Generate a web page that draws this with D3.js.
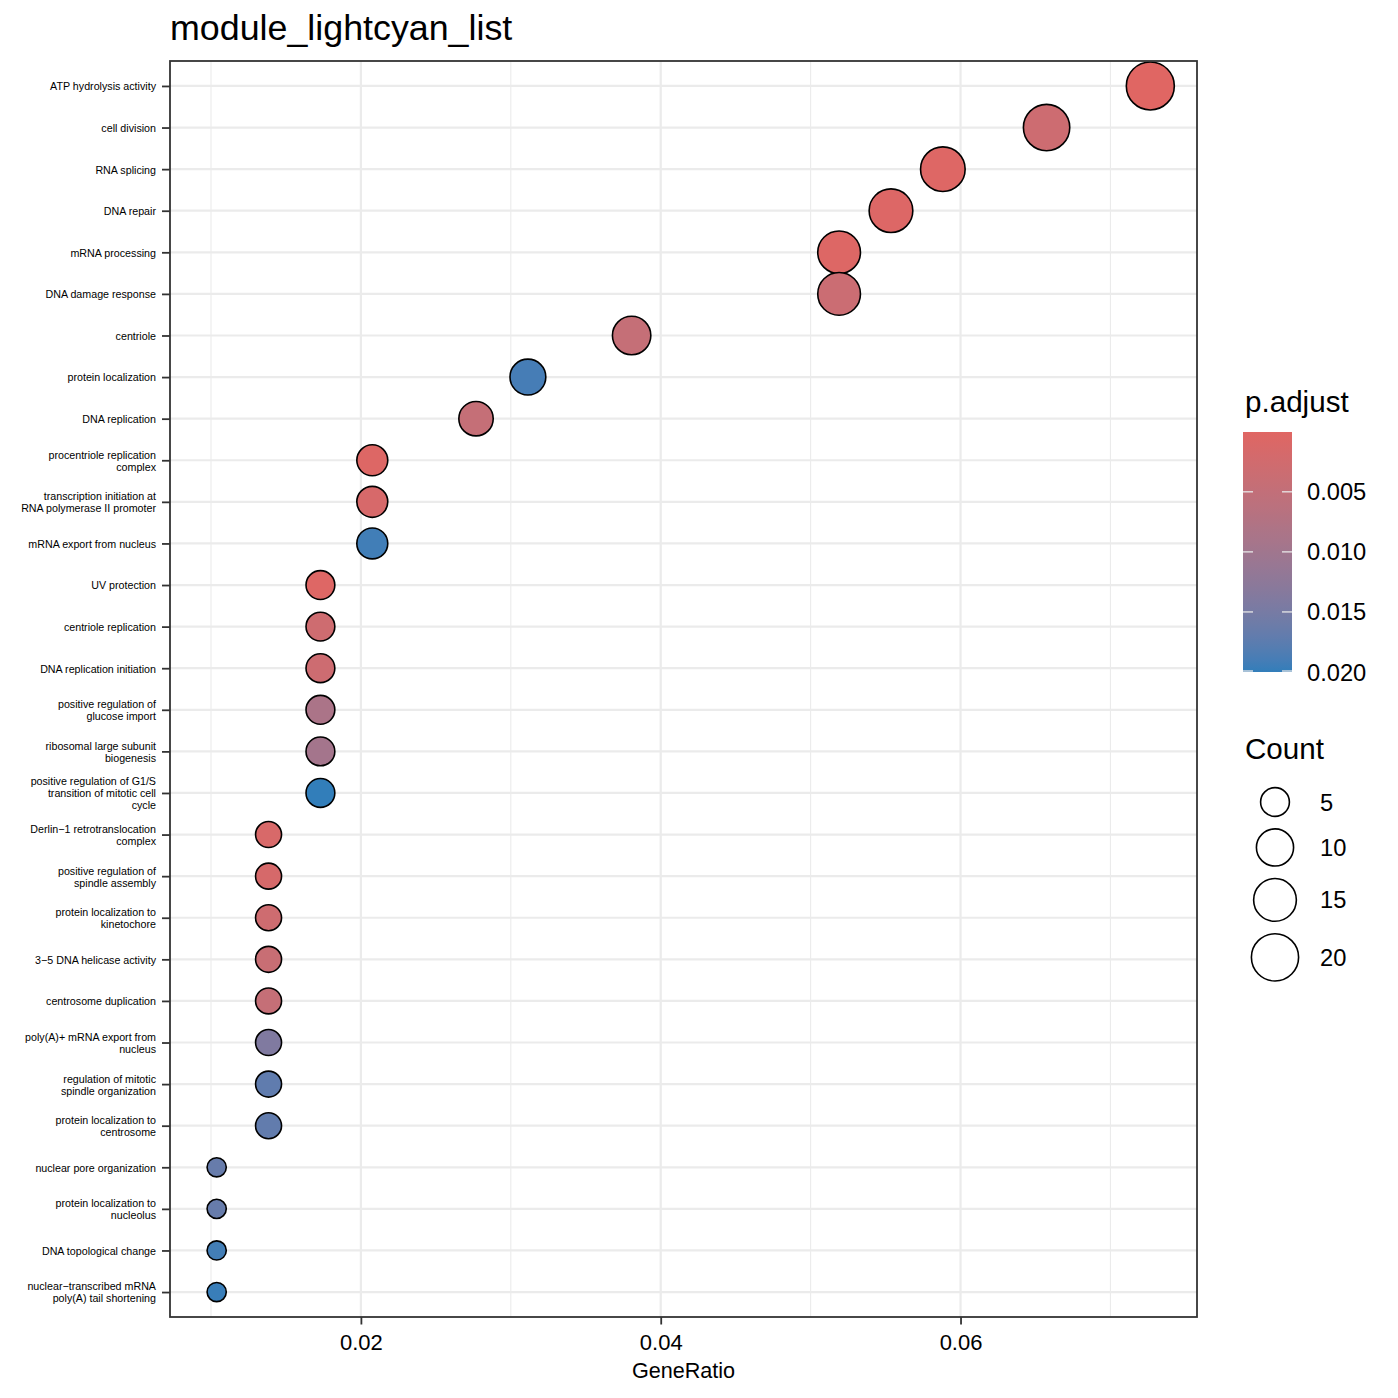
<!DOCTYPE html>
<html>
<head>
<meta charset="utf-8">
<script src="https://cdn.jsdelivr.net/npm/d3@7"></script>
<style>
  html, body { margin: 0; padding: 0; background: #fff; }
  svg { display: block; font-family: "Liberation Sans", Arial, Helvetica, sans-serif; }
</style>
</head>
<body>
<svg id="chart" width="1398" height="1398"></svg>
<script>
// ---------------- data ----------------
const categories = [
  "ATP hydrolysis activity",
  "cell division",
  "RNA splicing",
  "DNA repair",
  "mRNA processing",
  "DNA damage response",
  "centriole",
  "protein localization",
  "DNA replication",
  "procentriole replication\ncomplex",
  "transcription initiation at\nRNA polymerase II promoter",
  "mRNA export from nucleus",
  "UV protection",
  "centriole replication",
  "DNA replication initiation",
  "positive regulation of\nglucose import",
  "ribosomal large subunit\nbiogenesis",
  "positive regulation of G1/S\ntransition of mitotic cell\ncycle",
  "Derlin\u22121 retrotranslocation\ncomplex",
  "positive regulation of\nspindle assembly",
  "protein localization to\nkinetochore",
  "3\u22125 DNA helicase activity",
  "centrosome duplication",
  "poly(A)+ mRNA export from\nnucleus",
  "regulation of mitotic\nspindle organization",
  "protein localization to\ncentrosome",
  "nuclear pore organization",
  "protein localization to\nnucleolus",
  "DNA topological change",
  "nuclear\u2212transcribed mRNA\npoly(A) tail shortening"
];
const counts = [21, 19, 17, 16, 15, 15, 11, 9, 8, 6, 6, 6, 5, 5, 5, 5, 5, 5,
                4, 4, 4, 4, 4, 4, 4, 4, 3, 3, 3, 3];
const geneRatio = [0.07266, 0.06574, 0.05882, 0.05536, 0.05190, 0.05190, 0.03806,
                   0.03114, 0.02768, 0.02076, 0.02076, 0.02076, 0.01730, 0.01730,
                   0.01730, 0.01730, 0.01730, 0.01730, 0.01384, 0.01384, 0.01384,
                   0.01384, 0.01384, 0.01384, 0.01384, 0.01384, 0.01038, 0.01038,
                   0.01038, 0.01038];
const pAdjust = [0.00002, 0.0032, 0.0004, 0.0006, 0.0005, 0.0036, 0.0046, 0.0190,
                 0.0046, 0.0005, 0.0016, 0.0193, 0.0004, 0.0030, 0.0032, 0.0085,
                 0.0095, 0.0200, 0.0014, 0.0017, 0.0030, 0.0040, 0.0046, 0.0140,
                 0.0172, 0.0170, 0.0166, 0.0166, 0.0192, 0.0197];
const xTicks = [0.02, 0.04, 0.06];
const xMinor = [0.01, 0.03, 0.05, 0.07];
const colorTicks = [0.005, 0.010, 0.015, 0.020];
const sizeBreaks = [5, 10, 15, 20];
const lowColor = "#e06663", highColor = "#327eba";
const titleText = "module_lightcyan_list";

// ---------------- layout ----------------
const svg = d3.select("#chart");
const P = { left: 170, right: 1197, top: 61, bottom: 1317 };

const gMin = d3.min(geneRatio), gMax = d3.max(geneRatio);
const ex = (gMax - gMin) * 0.05;
const x = d3.scaleLinear().domain([gMin - ex, gMax + ex]).range([P.left, P.right]);
const y = d3.scalePoint().domain(categories).range([P.top, P.bottom]).padding(0.6);

const pMin = d3.min(pAdjust), pMax = d3.max(pAdjust);
const color = d3.scaleLinear().domain([pMin, pMax]).range([lowColor, highColor])
  .interpolate(d3.interpolateLab);

const cMin = d3.min(counts), cMax = d3.max(counts);
const rNorm = d3.scaleLinear().domain([0, 1]).range([9.6, 24.0]);
const radius = c => rNorm(Math.sqrt((c - cMin) / (cMax - cMin)));

// panel background
svg.append("rect").attr("x", P.left).attr("y", P.top)
  .attr("width", P.right - P.left).attr("height", P.bottom - P.top).attr("fill", "#fff");

// grid
const grid = svg.append("g");
grid.selectAll(".minor").data(xMinor).join("line")
  .attr("x1", d => x(d)).attr("x2", d => x(d))
  .attr("y1", P.top).attr("y2", P.bottom)
  .attr("stroke", "#ebebeb").attr("stroke-width", 1.1);
grid.selectAll(".majx").data(xTicks).join("line")
  .attr("x1", d => x(d)).attr("x2", d => x(d))
  .attr("y1", P.top).attr("y2", P.bottom)
  .attr("stroke", "#ebebeb").attr("stroke-width", 2.2);
grid.selectAll(".majy").data(categories).join("line")
  .attr("x1", P.left).attr("x2", P.right)
  .attr("y1", d => y(d)).attr("y2", d => y(d))
  .attr("stroke", "#ebebeb").attr("stroke-width", 2.2);

// points
const idx = d3.range(categories.length);
svg.append("g").selectAll("circle").data(idx).join("circle")
  .attr("cx", i => x(geneRatio[i]))
  .attr("cy", i => y(categories[i]))
  .attr("r", i => radius(counts[i]))
  .attr("fill", i => color(pAdjust[i]))
  .attr("stroke", "#000").attr("stroke-width", 1.6);

// panel border
svg.append("rect").attr("x", P.left).attr("y", P.top)
  .attr("width", P.right - P.left).attr("height", P.bottom - P.top)
  .attr("fill", "none").attr("stroke", "#333").attr("stroke-width", 1.8);

// x axis
const xAxis = d3.axisBottom(x).tickValues(xTicks).tickFormat(d3.format(".2f"))
  .tickSize(7.5).tickPadding(10);
const gx = svg.append("g").attr("transform", `translate(0,${P.bottom})`).call(xAxis);
gx.select(".domain").remove();
gx.selectAll(".tick line").attr("stroke", "#333").attr("stroke-width", 1.8);
gx.selectAll(".tick text").attr("font-size", 22).attr("fill", "#000")
  .attr("font-family", "Liberation Sans, Arial, sans-serif");

// y axis
const yAxis = d3.axisLeft(y).tickSize(8).tickFormat("");
const gy = svg.append("g").attr("transform", `translate(${P.left},0)`).call(yAxis);
gy.select(".domain").remove();
gy.selectAll(".tick line").attr("stroke", "#333").attr("stroke-width", 1.8);
gy.selectAll(".tick").each(function(d) {
  const lines = d.split("\n");
  const lh = 12;
  const t = d3.select(this).append("text")
    .attr("x", -14).attr("text-anchor", "end")
    .attr("font-size", 10.7).attr("fill", "#000")
    .attr("font-family", "Liberation Sans, Arial, sans-serif");
  lines.forEach((ln, k) => {
    t.append("tspan").attr("x", -14)
      .attr("y", (k - (lines.length - 1) / 2) * lh + 3.9)
      .text(ln);
  });
});

// axis title
svg.append("text").attr("x", (P.left + P.right) / 2).attr("y", 1378)
  .attr("text-anchor", "middle").attr("font-size", 21.6).attr("fill", "#000")
  .text("GeneRatio");

// plot title
svg.append("text").attr("x", 170).attr("y", 40)
  .attr("font-size", 35.8).attr("fill", "#000").text(titleText);

// ---------------- colour legend ----------------
const L = { x: 1243, w: 49, top: 432, bottom: 672 };
svg.append("text").attr("x", 1245).attr("y", 412).attr("font-size", 29.6)
  .attr("fill", "#000").text("p.adjust");
const defs = svg.append("defs");
const grad = defs.append("linearGradient").attr("id", "pgrad")
  .attr("x1", 0).attr("y1", 0).attr("x2", 0).attr("y2", 1);
d3.range(0, 1.0001, 0.05).forEach(t => {
  grad.append("stop").attr("offset", t)
    .attr("stop-color", color(pMin + t * (pMax - pMin)));
});
svg.append("rect").attr("x", L.x).attr("y", L.top).attr("width", L.w)
  .attr("height", L.bottom - L.top).attr("fill", "url(#pgrad)");
const cbY = d3.scaleLinear().domain([pMin, pMax]).range([L.top, L.bottom]);
const cb = svg.append("g");
colorTicks.forEach(v => {
  const yy = Math.min(cbY(v), L.bottom - 1);
  cb.append("line").attr("x1", L.x).attr("x2", L.x + 10).attr("y1", yy).attr("y2", yy)
    .attr("stroke", "#e8e8e8").attr("stroke-width", 1.3);
  cb.append("line").attr("x1", L.x + L.w - 10).attr("x2", L.x + L.w).attr("y1", yy).attr("y2", yy)
    .attr("stroke", "#e8e8e8").attr("stroke-width", 1.3);
  cb.append("text").attr("x", 1307).attr("y", cbY(v) + 8.5).attr("font-size", 23.7)
    .attr("fill", "#000").text(d3.format(".3f")(v));
});

// ---------------- size legend ----------------
svg.append("text").attr("x", 1245).attr("y", 759).attr("font-size", 29.6)
  .attr("fill", "#000").text("Count");
let cy = 802;
const sl = svg.append("g");
sizeBreaks.forEach((b, k) => {
  if (k > 0) cy += radius(sizeBreaks[k - 1]) + radius(b) + 12.5;
  sl.append("circle").attr("cx", 1275).attr("cy", cy).attr("r", radius(b))
    .attr("fill", "none").attr("stroke", "#000").attr("stroke-width", 1.6);
  sl.append("text").attr("x", 1320).attr("y", cy + 8.5).attr("font-size", 23.7)
    .attr("fill", "#000").text(b);
});
</script>
</body>
</html>
